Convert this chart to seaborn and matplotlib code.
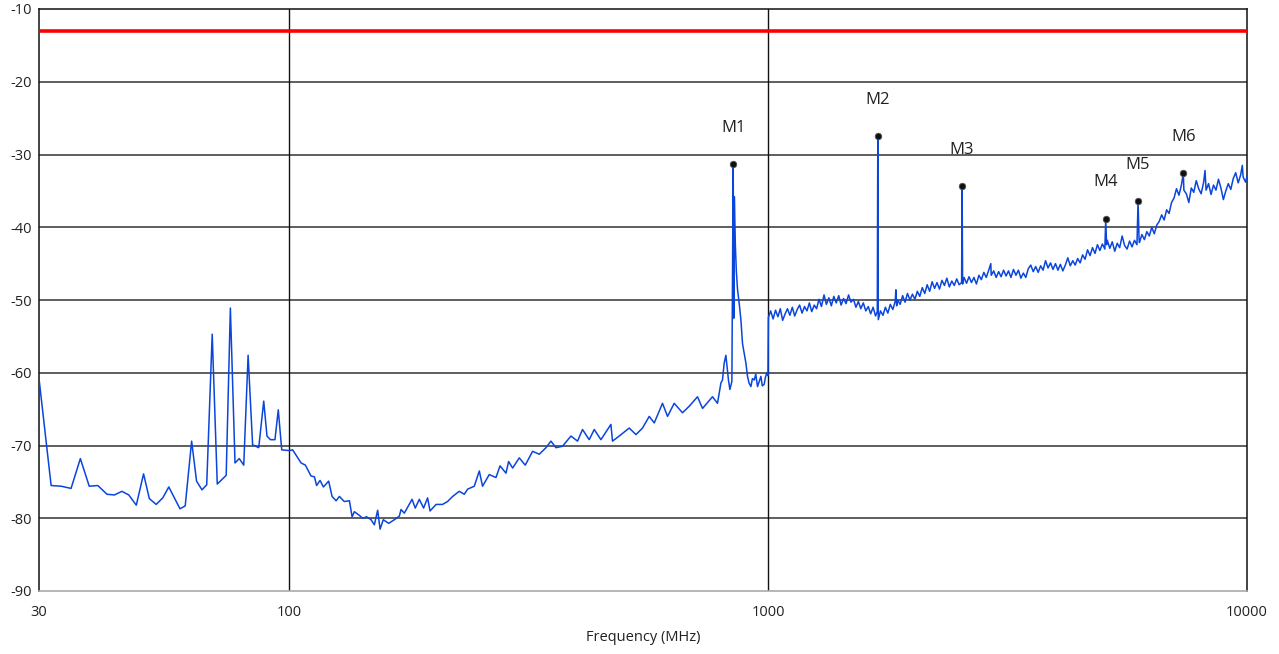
"""
Radiated emission scan with limit line and peak markers.
"""

import numpy as np
import pandas as pd
import matplotlib
matplotlib.use("Agg")
import matplotlib.pyplot as plt
import seaborn as sns

# 30 - 100 MHz (coarse steps)
low_freq = [30.0, 31.8, 33.4, 35.0, 36.6, 38.2, 39.8, 41.6, 43.1, 44.7, 46.2, 47.9,
            49.6, 51.0, 52.7, 54.4, 56.0, 59.1, 60.6, 62.5, 64.0, 65.7, 67.2, 69.0,
            70.7, 73.8, 75.3, 77.0, 78.6, 80.3, 82.0, 83.8, 86.3, 88.4, 89.8, 91.3,
            93.3, 94.8, 96.4, 100.0]
low_level = [-60.8, -75.5, -75.6, -75.9, -71.8, -75.6, -75.5, -76.7, -76.8, -76.3, -76.8, -78.2,
             -73.9, -77.3, -78.1, -77.2, -75.7, -78.7, -78.3, -69.4, -74.9, -76.1, -75.4, -54.7,
             -75.3, -74.1, -51.1, -72.4, -71.8, -72.7, -57.6, -69.9, -70.3, -63.9, -68.7, -69.2,
             -69.2, -65.1, -70.6, -70.7]

# 100 - 1000 MHz
mid_freq = [101.6, 105.8, 108.0, 111.0, 112.8, 114.0, 115.9, 117.8, 120.8, 122.8, 125.2, 127.2,
            130.2, 133.5, 135.2, 136.7, 140.0, 142.2, 145.0, 148.1, 150.5, 152.9, 154.7, 157.1,
            161.2, 165.7, 169.7, 171.1, 173.8, 180.4, 183.2, 186.8, 190.7, 194.4, 196.7, 202.5,
            208.9, 214.0, 219.3, 226.4, 231.9, 235.7, 243.3, 249.3, 253.2, 261.5, 270.1, 275.4,
            283.4, 287.0, 292.6, 302.1, 310.9, 322.1, 332.6, 343.5, 351.8, 360.4, 372.0, 387.3,
            399.8, 409.5, 422.9, 433.2, 447.4, 469.4, 473.0, 488.5, 512.6, 529.4, 546.5, 564.4,
            578.1, 601.6, 616.3, 636.4, 662.3, 684.1, 711.9, 729.3, 765.1, 783.7, 796.7, 802.7,
            809.2, 815.9, 826.1, 831.8, 839.8, 845.1, 847.5, 849.8, 854.0, 858.0, 862.8, 870.0,
            877.0, 883.9, 898.5, 905.4, 912.0, 920.3, 927.0, 935.0, 942.0, 950.0, 958.0, 965.6,
            972.0, 980.8, 987.0, 993.7, 999.0]
mid_level = [-70.6, -72.4, -72.7, -74.2, -74.3, -75.5, -74.8, -75.7, -74.9, -77.0, -77.6, -77.0,
             -77.7, -77.6, -79.8, -79.1, -79.6, -80.0, -79.8, -80.2, -80.9, -78.9, -81.5, -80.2,
             -80.7, -80.2, -79.7, -78.8, -79.3, -77.4, -78.6, -77.4, -78.6, -77.2, -79.0, -78.1,
             -78.1, -77.7, -77.0, -76.3, -76.7, -76.0, -75.6, -73.5, -75.6, -74.0, -74.4, -72.8,
             -73.8, -72.2, -73.1, -71.7, -72.7, -70.8, -71.2, -70.3, -69.4, -70.3, -70.1, -68.7,
             -69.4, -67.8, -69.2, -67.8, -69.2, -67.1, -69.4, -68.7, -67.6, -68.5, -67.6, -66.0,
             -66.9, -64.2, -66.0, -64.2, -65.5, -64.6, -63.3, -64.9, -63.3, -64.2, -61.4, -61.0,
             -58.7, -57.6, -61.0, -62.3, -61.2, -31.3, -52.5, -35.8, -42.5, -46.0, -48.5, -50.5,
             -52.7, -56.0, -58.7, -60.5, -61.4, -61.9, -60.8, -61.0, -60.2, -61.9, -61.2, -60.5,
             -61.8, -61.6, -60.6, -60.0, -60.4]

# 1 - 10 GHz, (MHz, dBm) pairs
high_points = [
    (1001, -52.4), (1012, -51.5), (1024, -52.6), (1036, -51.4), (1048, -52.3), (1060, -51.2),
    (1072, -52.8), (1085, -51.9), (1097, -51.2), (1110, -52.1), (1123, -51.0), (1136, -52.2),
    (1150, -51.3), (1163, -50.7), (1177, -51.8), (1191, -50.9), (1205, -51.5), (1219, -50.4),
    (1233, -51.6), (1248, -50.7), (1262, -51.2), (1277, -49.9), (1292, -50.9), (1308, -49.3),
    (1323, -50.6), (1339, -49.7), (1355, -50.8), (1371, -49.5), (1387, -50.4), (1404, -49.4),
    (1420, -50.7), (1437, -49.8), (1454, -50.5), (1472, -49.3), (1489, -50.3), (1507, -49.9),
    (1525, -51.0), (1543, -50.2), (1561, -51.2), (1580, -50.4), (1599, -51.5), (1618, -50.9),
    (1637, -51.9), (1656, -51.0), (1676, -52.2), (1690, -51.6), (1694, -27.5), (1698, -52.7),
    (1716, -51.5), (1737, -52.1), (1757, -51.0), (1778, -51.8), (1799, -50.6), (1821, -51.3),
    (1842, -50.2), (1848, -48.6), (1855, -50.8), (1864, -50.0), (1886, -50.6), (1909, -49.4),
    (1931, -50.3), (1954, -49.1), (1978, -50.0), (2001, -49.2), (2025, -49.9), (2049, -48.8),
    (2073, -49.5), (2098, -48.3), (2123, -49.1), (2148, -47.9), (2174, -48.8), (2200, -47.5),
    (2226, -48.4), (2252, -47.6), (2279, -48.5), (2306, -47.3), (2334, -48.0), (2361, -47.0),
    (2390, -48.2), (2418, -47.4), (2447, -48.0), (2476, -47.1), (2505, -47.9), (2535, -47.6),
    (2541, -34.3), (2547, -47.8), (2565, -46.9), (2596, -47.7), (2627, -46.8), (2658, -47.6),
    (2690, -46.9), (2722, -47.8), (2755, -46.6), (2787, -47.2), (2821, -46.2), (2854, -46.9),
    (2888, -45.9), (2917, -45.0), (2923, -46.6), (2958, -46.0), (2993, -46.9), (3029, -46.1),
    (3065, -46.8), (3102, -45.9), (3139, -46.7), (3176, -46.0), (3214, -46.9), (3253, -45.8),
    (3292, -46.6), (3331, -45.9), (3371, -47.0), (3411, -46.3), (3452, -46.9), (3493, -45.7),
    (3535, -45.2), (3577, -46.1), (3620, -45.4), (3663, -46.2), (3707, -45.3), (3751, -45.9),
    (3796, -44.6), (3841, -45.6), (3887, -44.9), (3934, -45.8), (3981, -45.0), (4028, -45.9),
    (4076, -45.1), (4125, -46.0), (4174, -45.2), (4224, -44.2), (4275, -45.3), (4326, -44.6),
    (4377, -45.2), (4430, -44.3), (4483, -44.9), (4536, -43.8), (4590, -44.4), (4645, -43.1),
    (4701, -43.9), (4757, -42.8), (4814, -43.6), (4871, -42.4), (4929, -43.2), (4988, -42.3),
    (5048, -43.0), (5070, -38.8), (5090, -42.4), (5108, -41.8), (5170, -42.9), (5231, -42.0),
    (5294, -43.3), (5357, -42.2), (5421, -42.8), (5486, -41.2), (5551, -42.5), (5618, -43.0),
    (5685, -41.9), (5753, -42.7), (5821, -41.8), (5891, -42.4), (5922, -36.4), (5950, -41.6),
    (5961, -42.1), (6033, -41.0), (6105, -41.7), (6178, -40.6), (6251, -41.2), (6326, -40.0),
    (6402, -40.9), (6479, -39.7), (6556, -39.2), (6634, -38.3), (6714, -39.0), (6794, -37.6),
    (6875, -38.1), (6957, -36.6), (7040, -36.0), (7124, -34.7), (7209, -35.6), (7295, -34.2),
    (7363, -32.6), (7382, -34.9), (7470, -35.4), (7560, -36.6), (7650, -34.6), (7741, -35.2),
    (7834, -33.6), (7927, -34.7), (8022, -35.4), (8118, -33.8), (8172, -32.2), (8214, -34.9),
    (8312, -34.0), (8412, -35.5), (8512, -34.2), (8614, -34.9), (8717, -33.4), (8821, -34.6),
    (8926, -36.2), (9032, -35.0), (9140, -34.0), (9250, -34.8), (9360, -33.3), (9472, -32.5),
    (9585, -33.9), (9700, -32.8), (9777, -31.5), (9816, -33.1), (9933, -33.8), (10000, -33.0),
]
high_freq = [p[0] for p in high_points]
high_level = [p[1] for p in high_points]

marker_names = ["M1", "M2", "M3", "M4", "M5", "M6"]
marker_freq = [845.1, 1694, 2541, 5070, 5922, 7363]
marker_level = [-31.3, -27.5, -34.3, -38.8, -36.4, -32.6]

limit_level = -13.0
x_ticks = [30, 100, 1000, 10000]
y_ticks = [-90, -80, -70, -60, -50, -40, -30, -20, -10]

trace = pd.DataFrame({
    "freq": low_freq + mid_freq + high_freq,
    "level": low_level + mid_level + high_level,
})
markers = pd.DataFrame({"freq": marker_freq, "level": marker_level, "name": marker_names})

sns.set_style("white")
plt.rcParams["font.family"] = ["Open Sans", "DejaVu Sans"]

fig = plt.figure(figsize=(12.79, 6.54), dpi=100)
ax = fig.add_axes([39 / 1279, 63 / 654, 1208 / 1279, 582 / 654])

ax.set_xscale("log")
ax.set_xlim(30, 10000)
ax.set_ylim(-90, -10)

# grid
for y in y_ticks[1:-1]:
    ax.axhline(y, color="#333333", lw=1.1, zorder=1)
for x in [100, 1000]:
    ax.axvline(x, color="#111111", lw=1.0, zorder=1)

ax.axhline(limit_level, color="#ff0000", lw=2.6, zorder=3)

sns.lineplot(data=trace, x="freq", y="level", ax=ax, sort=False, estimator=None,
             color="#0a45dc", lw=1.1, zorder=4)
sns.scatterplot(data=markers, x="freq", y="level", ax=ax, color="#111111", s=22,
                edgecolor="#555555", linewidth=0.6, zorder=5)
for _, row in markers.iterrows():
    ax.annotate(row["name"], (row["freq"], row["level"]), xytext=(0, 26),
                textcoords="offset points", ha="center", va="center",
                fontsize=12, color="#222222")

ax.set_xticks(x_ticks)
ax.set_xticklabels([str(t) for t in x_ticks])
ax.xaxis.set_minor_locator(matplotlib.ticker.NullLocator())
ax.set_yticks(y_ticks)
ax.set_yticklabels([str(t) for t in y_ticks])
ax.tick_params(axis="both", which="major", direction="out", length=4, width=1,
               color="#222222", labelsize=10.5, labelcolor="#222222")
ax.tick_params(axis="y", pad=1)
ax.tick_params(axis="x", pad=6)
ax.set_xlabel("Frequency (MHz)", fontsize=10.5, color="#222222", labelpad=7)
ax.set_ylabel("")

for side in ["left", "top", "right"]:
    ax.spines[side].set_color("#111111")
    ax.spines[side].set_linewidth(1.1)
ax.spines["bottom"].set_color("#aaaaaa")
ax.spines["bottom"].set_linewidth(1.2)

fig.savefig("out.png", dpi=100)
plt.close(fig)
